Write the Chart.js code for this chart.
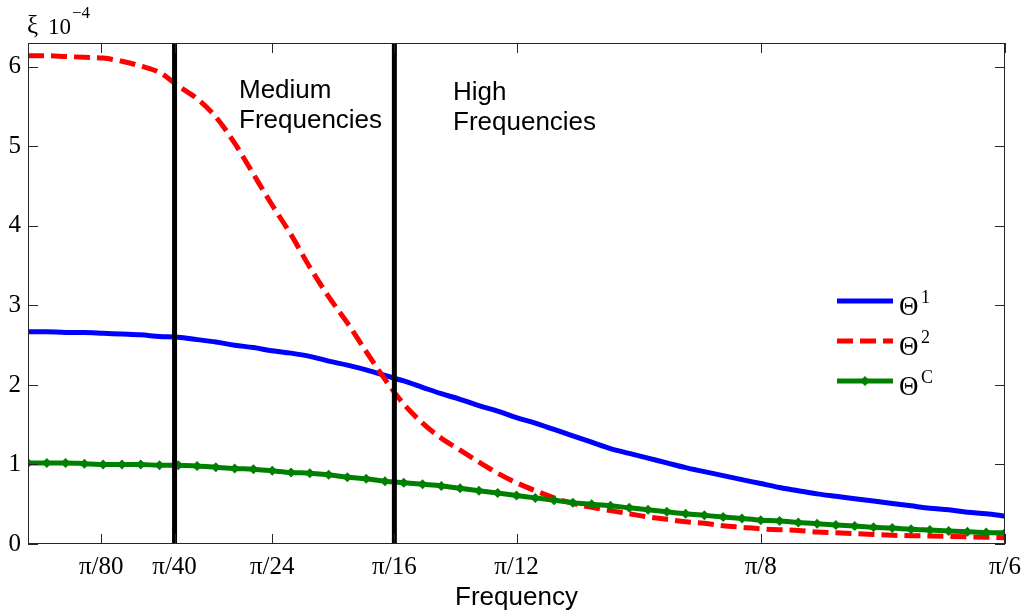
<!DOCTYPE html>
<html>
<head>
<meta charset="utf-8">
<script src="https://cdn.jsdelivr.net/npm/chart.js@4.4.0/dist/chart.umd.min.js"></script>
<style>
  html, body { margin: 0; padding: 0; background: #fff; }
</style>
</head>
<body>
<canvas id="freqChart" width="1031" height="616"></canvas>
<script>
// frequency grid: 53 samples from 0 to pi/6
var sampleCount = 53;
var freqMax = Math.PI / 6;
var yMax = 6.3;

// values are in units of 1e-4
var theta1 = [2.67, 2.67, 2.66, 2.66, 2.65, 2.64, 2.63, 2.61, 2.60, 2.57,
              2.54, 2.50, 2.47, 2.43, 2.40, 2.36, 2.30, 2.25, 2.19, 2.12,
              2.05, 1.97, 1.89, 1.82, 1.74, 1.67, 1.59, 1.52, 1.44, 1.36,
              1.28, 1.20, 1.14, 1.08, 1.02, 0.96, 0.91, 0.86, 0.81, 0.76,
              0.71, 0.67, 0.63, 0.60, 0.57, 0.54, 0.51, 0.48, 0.45, 0.43,
              0.40, 0.38, 0.35];
var theta2 = [6.14, 6.14, 6.13, 6.12, 6.11, 6.07, 6.01, 5.93, 5.76, 5.60,
              5.37, 5.04, 4.65, 4.26, 3.89, 3.48, 3.11, 2.78, 2.42, 2.07,
              1.76, 1.52, 1.33, 1.18, 1.03, 0.89, 0.77, 0.67, 0.58, 0.51,
              0.46, 0.42, 0.38, 0.34, 0.31, 0.28, 0.26, 0.23, 0.21, 0.19,
              0.18, 0.17, 0.15, 0.14, 0.13, 0.12, 0.11, 0.105, 0.10, 0.095,
              0.09, 0.085, 0.08];
var thetaC = [1.02, 1.02, 1.02, 1.01, 1.00, 1.00, 1.00, 0.99, 0.99, 0.98,
              0.965, 0.95, 0.94, 0.92, 0.90, 0.89, 0.87, 0.84, 0.82, 0.79,
              0.77, 0.75, 0.73, 0.70, 0.67, 0.64, 0.61, 0.58, 0.55, 0.52,
              0.50, 0.48, 0.455, 0.43, 0.405, 0.38, 0.36, 0.34, 0.32, 0.30,
              0.29, 0.27, 0.255, 0.24, 0.225, 0.21, 0.20, 0.185, 0.175, 0.165,
              0.155, 0.145, 0.14];

var xTickValues = [Math.PI / 80, Math.PI / 40, Math.PI / 24, Math.PI / 16, Math.PI / 12, Math.PI / 8, Math.PI / 6];
var xTickLabels = ["π/80", "π/40", "π/24", "π/16", "π/12", "π/8", "π/6"];
var yTickValues = [0, 1, 2, 3, 4, 5, 6];
var bandEdges = [Math.PI / 40, Math.PI / 16];
var seriesSup = ["1", "2", "C"];

document.addEventListener("DOMContentLoaded", function () {
    var freqs = theta1.map(function (v, i) { return i * freqMax / (sampleCount - 1); });

    function toPoints(values) {
        return values.map(function (v, i) { return {x: freqs[i], y: v}; });
    }

    function edgeLine(x) {
        return {
            data: [{x: x, y: 0}, {x: x, y: yMax}],
            borderColor: '#000',
            borderWidth: 5,
            pointRadius: 0,
            order: 1
        };
    }

    // frame, inward ticks, legend and text notes
    var decorations = {
        id: 'decorations',
        afterDatasetsDraw: function (chart) {
            var ctx = chart.ctx;
            var area = chart.chartArea;
            var xs = chart.scales.x;
            var ys = chart.scales.y;
            var tickLen = 10;

            ctx.save();
            ctx.strokeStyle = '#262626';
            ctx.lineWidth = 1;
            ctx.setLineDash([]);
            ctx.strokeRect(area.left + 0.5, area.top + 0.5, area.right - area.left - 1, area.bottom - area.top - 1);

            ctx.beginPath();
            xTickValues.forEach(function (v) {
                var px = Math.round(xs.getPixelForValue(v)) + 0.5;
                ctx.moveTo(px, area.bottom);
                ctx.lineTo(px, area.bottom - tickLen);
                ctx.moveTo(px, area.top);
                ctx.lineTo(px, area.top + tickLen);
            });
            yTickValues.forEach(function (v) {
                var py = Math.round(ys.getPixelForValue(v)) + 0.5;
                ctx.moveTo(area.left, py);
                ctx.lineTo(area.left + tickLen, py);
                ctx.moveTo(area.right, py);
                ctx.lineTo(area.right - tickLen, py);
            });
            ctx.stroke();

            // exponent label
            ctx.fillStyle = '#000';
            ctx.textBaseline = 'alphabetic';
            ctx.textAlign = 'left';
            ctx.font = '25px "Liberation Serif"';
            ctx.fillText('ξ', 27, 33);
            ctx.font = '23px "Liberation Serif"';
            ctx.fillText('10', 48, 34);
            ctx.font = '17px "Liberation Serif"';
            ctx.fillText('\u22124', 72, 18);

            // band notes
            ctx.font = '26px "Liberation Sans"';
            ctx.fillText('Medium', 239, 98);
            ctx.fillText('Frequencies', 239, 128);
            ctx.fillText('High', 453, 100);
            ctx.fillText('Frequencies', 453, 130);

            // legend
            var lx = area.right - 168;
            chart.data.datasets.slice(0, 3).forEach(function (ds, i) {
                var ly = area.top + 258 + i * 40;
                ctx.strokeStyle = ds.borderColor;
                ctx.lineWidth = ds.borderWidth;
                ctx.lineCap = 'butt';
                ctx.setLineDash(ds.borderDash || []);
                ctx.beginPath();
                ctx.moveTo(lx, ly);
                ctx.lineTo(lx + 56, ly);
                ctx.stroke();
                ctx.setLineDash([]);
                if (ds.pointRadius > 0) {
                    var r = ds.pointRadius;
                    ctx.fillStyle = ds.borderColor;
                    ctx.beginPath();
                    ctx.moveTo(lx + 28, ly - r);
                    ctx.lineTo(lx + 28 + r, ly);
                    ctx.lineTo(lx + 28, ly + r);
                    ctx.lineTo(lx + 28 - r, ly);
                    ctx.closePath();
                    ctx.fill();
                }
                ctx.fillStyle = '#000';
                ctx.font = '27px "Liberation Serif"';
                ctx.fillText('Θ', lx + 62, ly + 14);
                ctx.font = '18px "Liberation Serif"';
                ctx.fillText(seriesSup[i], lx + 84, ly + 2);
            });
            ctx.restore();
        }
    };

    var ctx = document.getElementById("freqChart").getContext("2d");
    new Chart(ctx, {
        type: 'line',
        data: {
            datasets: [{
                label: 'Θ1',
                data: toPoints(theta1),
                borderColor: '#0000ff',
                borderWidth: 5,
                pointRadius: 0,
                cubicInterpolationMode: 'monotone',
                order: 4
            }, {
                label: 'Θ2',
                data: toPoints(theta2),
                borderColor: '#ff0000',
                borderWidth: 5,
                borderDash: [16, 7],
                pointRadius: 0,
                cubicInterpolationMode: 'monotone',
                order: 3
            }, {
                label: 'ΘC',
                data: toPoints(thetaC),
                borderColor: '#008000',
                backgroundColor: '#008000',
                borderWidth: 5,
                pointRadius: 5,
                pointStyle: 'rectRot',
                pointBackgroundColor: '#008000',
                pointBorderColor: '#008000',
                pointBorderWidth: 0,
                cubicInterpolationMode: 'monotone',
                order: 2
            },
            edgeLine(bandEdges[0]),
            edgeLine(bandEdges[1])]
        },
        options: {
            responsive: false,
            animation: false,
            events: [],
            devicePixelRatio: 1,
            layout: {padding: {top: 43, right: 26, left: 0, bottom: 0}},
            plugins: {
                legend: {display: false},
                tooltip: {enabled: false}
            },
            scales: {
                x: {
                    type: 'linear',
                    min: 0,
                    max: freqMax,
                    afterBuildTicks: function (scale) {
                        scale.ticks = xTickValues.map(function (v) { return {value: v}; });
                    },
                    afterFit: function (scale) { scale.height = 72; },
                    grid: {display: false, drawTicks: false},
                    border: {display: false},
                    ticks: {
                        autoSkip: false,
                        maxRotation: 0,
                        padding: 8,
                        color: '#000',
                        font: {family: 'Liberation Serif', size: 25},
                        callback: function (value, index) { return xTickLabels[index]; }
                    },
                    title: {
                        display: true,
                        text: 'Frequency',
                        color: '#000',
                        font: {family: 'Liberation Sans', size: 26},
                        padding: {top: 0, bottom: 3}
                    }
                },
                y: {
                    min: 0,
                    max: yMax,
                    afterBuildTicks: function (scale) {
                        scale.ticks = yTickValues.map(function (v) { return {value: v}; });
                    },
                    afterFit: function (scale) { scale.width = 28; },
                    grid: {display: false, drawTicks: false},
                    border: {display: false},
                    ticks: {
                        padding: 7,
                        color: '#000',
                        font: {family: 'Liberation Serif', size: 25}
                    }
                }
            }
        },
        plugins: [decorations]
    });
});
</script>
</body>
</html>
